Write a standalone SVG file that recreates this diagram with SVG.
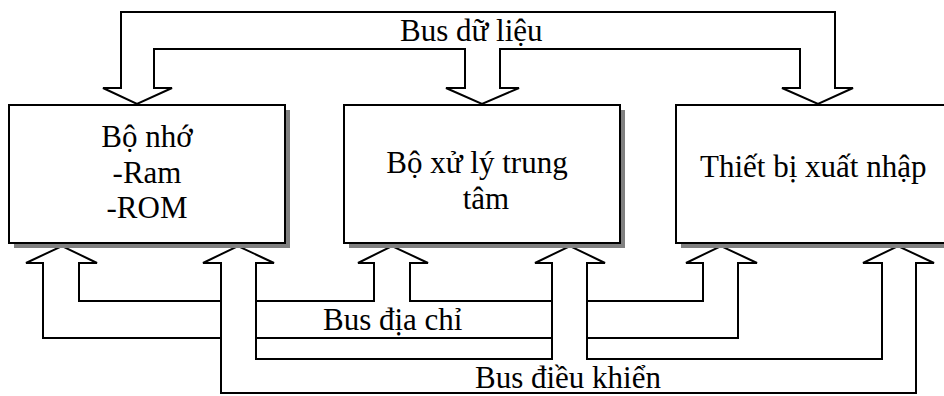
<svg xmlns="http://www.w3.org/2000/svg" width="944" height="396" viewBox="0 0 944 396">
  <style>
    .box { fill: #ffffff; stroke: #000000; stroke-width: 2; }
    .shadow { fill: #808080; }
    .bus { fill: none; stroke: #000000; stroke-width: 2; stroke-linejoin: miter; stroke-linecap: square; }
    .lbl { font-family: "Liberation Serif", "Times New Roman", serif; font-size: 31px; fill: #000000; }
    .mid { text-anchor: middle; }
  </style>
  <rect width="944" height="396" fill="#ffffff"/>

  <!-- buses: hollow double-line bands with block arrowheads -->
  <g id="connectors">
    <!-- data bus (top) -->
    <g id="data-bus">
      <path class="bus" d="M121,88 V12 H835 V88"/>
      <path class="bus" d="M154,88 V49 H465 V88"/>
      <path class="bus" d="M500,88 V49 H800 V88"/>
      <!-- heads pointing down -->
      <path class="bus" d="M121,88 H103 L137,104 L172,88 H154"/>
      <path class="bus" d="M465,88 H446 L482,104 L519,88 H500"/>
      <path class="bus" d="M800,88 H782 L818,104 L853,88 H835"/>
      <text class="lbl" x="400" y="41">Bus dữ liệu</text>
    </g>

    <!-- address bus -->
    <g id="address-bus">
      <path class="bus" d="M43,263 V338 H221"/>
      <path class="bus" d="M79,263 V301 H221"/>
      <path class="bus" d="M256,301 H374 V263"/>
      <path class="bus" d="M410,263 V301 H552"/>
      <path class="bus" d="M587,301 H703 V263"/>
      <path class="bus" d="M256,338 H552"/>
      <path class="bus" d="M587,338 H738 V263"/>
      <!-- heads pointing up -->
      <path class="bus" d="M43,263 H26 L62,246 L97,263 H79"/>
      <path class="bus" d="M374,263 H358 L392,246 L428,263 H410"/>
      <path class="bus" d="M703,263 H686 L721,246 L757,263 H738"/>
      <text class="lbl" x="323" y="330">Bus địa chỉ</text>
    </g>

    <!-- control bus -->
    <g id="control-bus">
      <path class="bus" d="M221,263 V393 H916 V263"/>
      <path class="bus" d="M256,263 V359 H552 V263"/>
      <path class="bus" d="M587,263 V359 H882 V263"/>
      <!-- heads pointing up -->
      <path class="bus" d="M221,263 H203 L238,246 L274,263 H256"/>
      <path class="bus" d="M552,263 H535 L570,246 L605,263 H587"/>
      <path class="bus" d="M882,263 H863 L898,246 L934,263 H916"/>
      <text class="lbl" x="475" y="388">Bus điều khiển</text>
    </g>
  </g>

  <!-- memory -->
  <g id="memory">
    <rect class="shadow" x="14" y="110" width="276" height="138"/>
    <rect class="box" x="9" y="105" width="276" height="138"/>
    <text class="lbl mid" x="147" y="147">Bộ nhớ</text>
    <text class="lbl mid" x="147" y="183">-Ram</text>
    <text class="lbl mid" x="147" y="218">-ROM</text>
  </g>

  <!-- central processing unit -->
  <g id="cpu">
    <rect class="shadow" x="349" y="110" width="276" height="138"/>
    <rect class="box" x="344" y="105" width="276" height="138"/>
    <text class="lbl mid" x="477" y="173">Bộ xử lý trung</text>
    <text class="lbl mid" x="486" y="209">tâm</text>
  </g>

  <!-- input/output devices -->
  <g id="io">
    <rect class="shadow" x="681" y="110" width="276" height="138"/>
    <rect class="box" x="676" y="105" width="276" height="138"/>
    <text class="lbl" x="700" y="177">Thiết bị xuất nhập</text>
  </g>
</svg>
